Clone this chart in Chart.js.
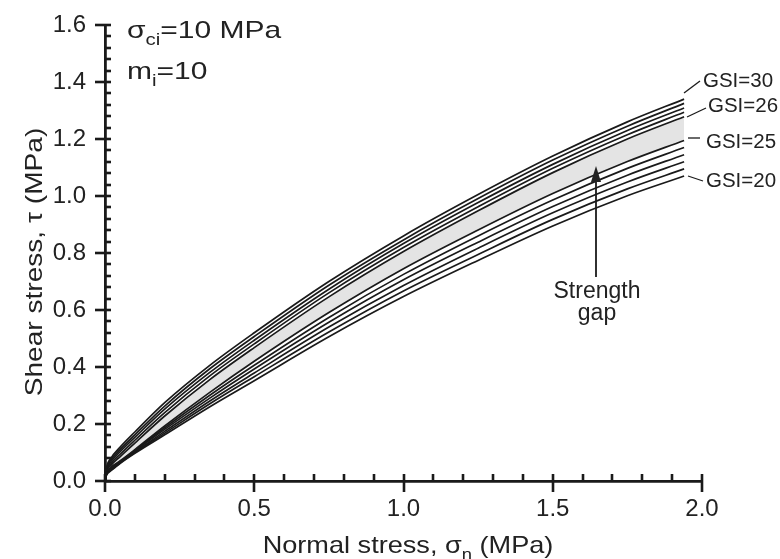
<!DOCTYPE html>
<html><head><meta charset="utf-8">
<script src="https://cdn.jsdelivr.net/npm/chart.js@4/dist/chart.umd.min.js"></script>
<style>html,body{margin:0;padding:0;background:#fff}#wrap{width:780px;height:559px;position:relative}</style>
</head><body><div id="wrap"><canvas id="c" width="780" height="559"></canvas></div>
<script>
// Normal stress values (MPa)
const sigma = [0, 0.005, 0.02, 0.05, 0.1, 0.2, 0.35, 0.5, 0.75, 1.0, 1.25, 1.5, 1.75, 1.94];
// Shear stress (MPa) per GSI
const gsi30 = [0, 0.045, 0.080, 0.118, 0.172, 0.275, 0.405, 0.520, 0.700, 0.860, 1.005, 1.140, 1.260, 1.340];
const gsi29 = [0, 0.042, 0.074, 0.110, 0.162, 0.263, 0.393, 0.507, 0.687, 0.846, 0.991, 1.126, 1.245, 1.325];
const gsi28 = [0, 0.039, 0.068, 0.102, 0.153, 0.252, 0.380, 0.494, 0.673, 0.833, 0.977, 1.111, 1.230, 1.309];
const gsi27 = [0, 0.036, 0.061, 0.093, 0.143, 0.240, 0.368, 0.481, 0.660, 0.819, 0.962, 1.097, 1.215, 1.294];
const gsi26 = [0, 0.033, 0.055, 0.085, 0.133, 0.228, 0.355, 0.468, 0.646, 0.805, 0.948, 1.082, 1.200, 1.278];
const gsi25 = [0, 0.029, 0.048, 0.070, 0.110, 0.193, 0.310, 0.420, 0.591, 0.745, 0.881, 1.009, 1.121, 1.195];
const gsi24 = [0, 0.027, 0.046, 0.068, 0.107, 0.187, 0.300, 0.406, 0.574, 0.725, 0.860, 0.986, 1.097, 1.170];
const gsi23 = [0, 0.025, 0.043, 0.066, 0.105, 0.181, 0.290, 0.393, 0.557, 0.706, 0.838, 0.963, 1.073, 1.145];
const gsi22 = [0, 0.024, 0.041, 0.065, 0.102, 0.174, 0.280, 0.379, 0.540, 0.686, 0.817, 0.941, 1.049, 1.120];
const gsi21 = [0, 0.022, 0.038, 0.063, 0.100, 0.168, 0.270, 0.366, 0.523, 0.667, 0.795, 0.918, 1.025, 1.095];
const gsi20 = [0, 0.020, 0.036, 0.061, 0.097, 0.162, 0.260, 0.352, 0.506, 0.647, 0.774, 0.895, 1.001, 1.070];

const seriesNames = ['GSI=30','GSI=29','GSI=28','GSI=27','GSI=26','GSI=25','GSI=24','GSI=23','GSI=22','GSI=21','GSI=20'];
const seriesValues = [gsi30, gsi29, gsi28, gsi27, gsi26, gsi25, gsi24, gsi23, gsi22, gsi21, gsi20];

const xTickLabels = ['0.0','0.5','1.0','1.5','2.0'];
const yTickLabels = ['0.0','0.2','0.4','0.6','0.8','1.0','1.2','1.4','1.6'];

const F = "'Liberation Sans', Arial, Helvetica, sans-serif";
const INK = '#1a1a1a';

function drawRich(ctx, parts, x, y, size, align, sx) {
  sx = sx || 1;
  let w = 0;
  for (const p of parts) { ctx.font = (p[1] ? size * 0.68 : size) + 'px ' + F; w += ctx.measureText(p[0]).width; }
  ctx.save();
  ctx.translate(x, y);
  ctx.scale(sx, 1);
  let cx = align === 'center' ? -w / 2 : 0;
  ctx.textAlign = 'left';
  ctx.textBaseline = 'alphabetic';
  for (const p of parts) {
    const s = p[1] ? size * 0.68 : size;
    ctx.font = s + 'px ' + F;
    ctx.fillText(p[0], cx, p[1] ? size * 0.28 : 0);
    cx += ctx.measureText(p[0]).width;
  }
  ctx.restore();
}

const deco = {
  id: 'deco',
  afterDraw(chart) {
    const ctx = chart.ctx;
    const xs = chart.scales.x, ys = chart.scales.y;
    const x0 = xs.getPixelForValue(0), y0 = ys.getPixelForValue(0);
    ctx.save();
    ctx.strokeStyle = INK; ctx.fillStyle = INK;
    ctx.lineCap = 'butt';
    ctx.lineWidth = 2.6;
    for (let i = 0; i <= 40; i++) {
      const py = Math.round(ys.getPixelForValue(i * 0.04));
      const major = i % 5 === 0;
      ctx.beginPath();
      ctx.moveTo(major ? x0 - 10 : x0, py);
      ctx.lineTo(x0 + 6, py);
      ctx.stroke();
    }
    for (let i = 0; i <= 20; i++) {
      const px = Math.round(xs.getPixelForValue(i * 0.1));
      const major = i % 5 === 0;
      ctx.beginPath();
      ctx.moveTo(px, major ? y0 + 11 : y0);
      ctx.lineTo(px, y0 - 7);
      ctx.stroke();
    }
    ctx.fillStyle = '#222';
    drawRich(ctx, [['Normal stress, σ'], ['n', true], [' (MPa)']], 408, 553, 24, 'center', 1.13);
    ctx.save();
    ctx.translate(42, 262);
    ctx.rotate(-Math.PI / 2);
    drawRich(ctx, [['Shear stress, τ (MPa)']], 0, 0, 24, 'center', 1.17);
    ctx.restore();
    drawRich(ctx, [['σ'], ['ci', true], ['=10 MPa']], 127, 38, 24, 'left', 1.25);
    drawRich(ctx, [['m'], ['i', true], ['=10']], 127, 79, 24, 'left', 1.25);
    ctx.lineWidth = 1.3;
    const leaders = [[684, 93, 700, 81], [687, 117, 706, 108], [688, 138, 700, 138], [688, 176, 703, 181]];
    for (const l of leaders) { ctx.beginPath(); ctx.moveTo(l[0], l[1]); ctx.lineTo(l[2], l[3]); ctx.stroke(); }
    drawRich(ctx, [['GSI=30']], 703, 87, 20.5, 'left');
    drawRich(ctx, [['GSI=26']], 708, 112, 20.5, 'left');
    drawRich(ctx, [['GSI=25']], 706, 148, 20.5, 'left');
    drawRich(ctx, [['GSI=20']], 706, 187, 20.5, 'left');
    ctx.lineWidth = 1.8;
    ctx.beginPath(); ctx.moveTo(596, 277); ctx.lineTo(596, 178); ctx.stroke();
    ctx.beginPath(); ctx.moveTo(596, 166); ctx.lineTo(601, 182); ctx.lineTo(591, 182); ctx.closePath(); ctx.fill();
    drawRich(ctx, [['Strength']], 597, 298, 23, 'center');
    drawRich(ctx, [['gap']], 597, 320, 23, 'center');
    ctx.restore();
  }
};

const datasets = seriesValues.map((vals, i) => ({
  label: seriesNames[i],
  data: sigma.map((s, k) => ({ x: s, y: vals[k] })),
  borderColor: INK,
  borderWidth: 1.7,
  pointRadius: 0,
  cubicInterpolationMode: 'monotone',
  fill: seriesNames[i] === 'GSI=26' ? { target: i + 1 } : false,
  backgroundColor: '#e4e4e4'
}));

new Chart(document.getElementById('c'), {
  type: 'line',
  data: { datasets },
  options: {
    responsive: false,
    animation: false,
    devicePixelRatio: 1,
    layout: { padding: { left: 0, right: 78, top: 25, bottom: 0 } },
    plugins: { legend: { display: false }, tooltip: { enabled: false }, filler: { drawTime: 'beforeDatasetsDraw' } },
    scales: {
      x: {
        type: 'linear', min: 0, max: 2,
        afterFit(s) { s.height = 78; s.paddingLeft = 0; s.paddingRight = 0; },
        afterBuildTicks(s) { s.ticks = xTickLabels.map(t => ({ value: parseFloat(t) })); },
        ticks: { callback: (v, i) => xTickLabels[i], font: { family: F, size: 24 }, color: '#222', padding: 14, maxRotation: 0 },
        grid: { drawOnChartArea: false, drawTicks: false },
        border: { display: true, color: INK, width: 2.8 }
      },
      y: {
        type: 'linear', min: 0, max: 1.6,
        afterFit(s) { s.width = 105; s.paddingTop = 0; s.paddingBottom = 0; },
        afterBuildTicks(s) { s.ticks = yTickLabels.map(t => ({ value: parseFloat(t) })); },
        ticks: { callback: (v, i) => yTickLabels[i], font: { family: F, size: 24 }, color: '#222', padding: 19 },
        grid: { drawOnChartArea: false, drawTicks: false },
        border: { display: true, color: INK, width: 2.8 }
      }
    }
  },
  plugins: [deco]
});
</script>
</body></html>
